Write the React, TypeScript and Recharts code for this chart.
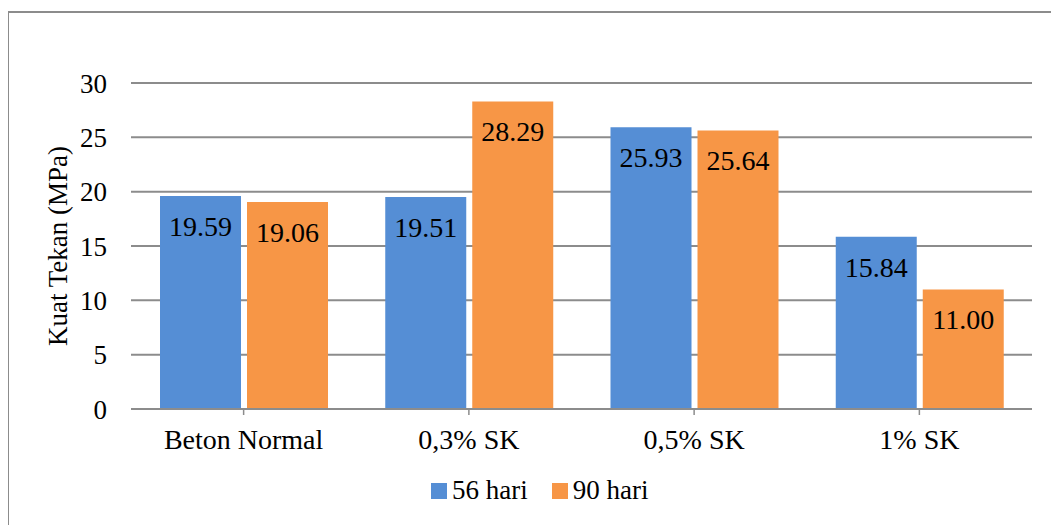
import React from 'react';
import { BarChart, Bar, XAxis, YAxis, CartesianGrid, Legend, LabelList } from 'recharts';

// Sample categories and compressive strength (MPa) per curing age
const categories = ['Beton Normal', '0,3% SK', '0,5% SK', '1% SK'];
const hari56 = [19.59, 19.51, 25.93, 15.84];
const hari90 = [19.06, 28.29, 25.64, 11.0];
const yTicks = [0, 5, 10, 15, 20, 25, 30];
const seriesNames = ['56 hari', '90 hari'];
const seriesColors = ['#558ED5', '#F79646'];

const data = categories.map((name, i) => ({ name, d56: hari56[i], d90: hari90[i] }));

const FONT = '"Liberation Serif", "Times New Roman", serif';
const GRID = '#8c8c8c';

// simple legend so spacing follows the Excel-style original
const renderLegend = () => (
  <div style={{ display: 'flex', alignItems: 'center', fontFamily: FONT, fontSize: 27, color: '#000' }}>
    {seriesNames.map((n, i) => (
      <div key={n} style={{ display: 'flex', alignItems: 'center', marginRight: 24 }}>
        <span style={{ display: 'inline-block', width: 16, height: 16, background: seriesColors[i], marginRight: 5 }} />
        <span>{n}</span>
      </div>
    ))}
  </div>
);

export default function App() {
  return (
    <div style={{ position: 'relative', width: 1051, height: 517, fontFamily: FONT }}>
      {/* outer frame, right and bottom edges fall outside the picture */}
      <div
        style={{
          position: 'absolute',
          top: 3,
          left: -1,
          right: -10,
          bottom: -10,
          borderTop: `2px solid ${GRID}`,
          borderLeft: `2px solid ${GRID}`,
        }}
      />
      <div style={{ position: 'absolute', top: 0, left: 0 }}>
        <BarChart
          width={1051}
          height={517}
          data={data}
          margin={{ top: 75, right: 27, bottom: 19, left: 0 }}
          barCategoryGap={29}
          barGap={6}
          style={{ fontFamily: FONT }}
        >
          <CartesianGrid vertical={false} stroke={GRID} strokeWidth={2} />
          <XAxis
            dataKey="name"
            height={66}
            axisLine={{ stroke: GRID, strokeWidth: 2 }}
            tickLine={{ stroke: GRID, strokeWidth: 1.5 }}
            tickSize={6}
            tickMargin={14}
            tick={{ fill: '#000', fontSize: 28, fontFamily: FONT }}
          />
          <YAxis
            width={123}
            domain={[0, 30]}
            ticks={yTicks}
            axisLine={false}
            tickLine={false}
            tickSize={0}
            tickMargin={24}
            tick={{ fill: '#000', fontSize: 27, fontFamily: FONT }}
            label={{
              value: 'Kuat Tekan (MPa)',
              angle: -90,
              position: 'center',
              dx: -12,
              style: { fill: '#000', fontSize: 27, fontFamily: FONT },
            }}
          />
          <Legend
            verticalAlign="bottom"
            content={renderLegend}
            wrapperStyle={{ left: 423, width: 260 }}
          />
          <Bar dataKey="d56" name={seriesNames[0]} fill={seriesColors[0]} isAnimationActive={false}>
            <LabelList
              dataKey="d56"
              position="insideTop"
              offset={20}
              formatter={(v: number) => v.toFixed(2)}
              style={{ fill: '#000', fontSize: 28, fontFamily: FONT }}
            />
          </Bar>
          <Bar dataKey="d90" name={seriesNames[1]} fill={seriesColors[1]} isAnimationActive={false}>
            <LabelList
              dataKey="d90"
              position="insideTop"
              offset={20}
              formatter={(v: number) => v.toFixed(2)}
              style={{ fill: '#000', fontSize: 28, fontFamily: FONT }}
            />
          </Bar>
        </BarChart>
      </div>
    </div>
  );
}
